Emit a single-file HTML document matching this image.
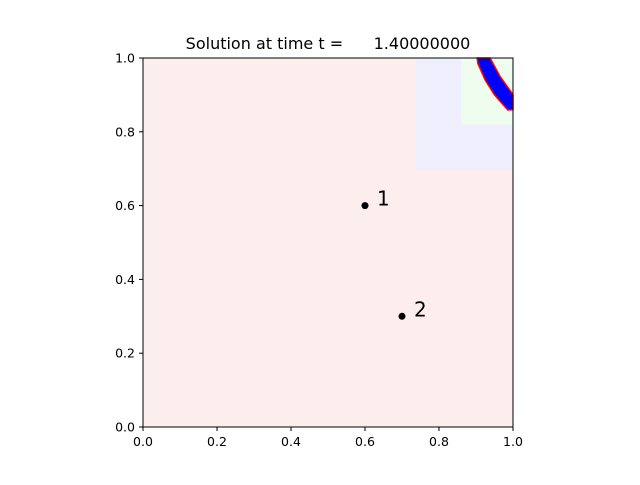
<!DOCTYPE html>
<html><head><meta charset="utf-8"><style>
body{margin:0;background:#fff;}
svg{font-family:"DejaVu Sans","Liberation Sans",sans-serif;}
</style></head><body>
<svg id="chart" width="640" height="480">
<text x="328" y="49" font-size="16" text-anchor="middle" style="white-space:pre">Solution at time t =      1.40000000</text>
<g id="plot"></g>
</svg>
<script>
const xTicks=[0,0.2,0.4,0.6,0.8,1.0];
const yTicks=[0,0.2,0.4,0.6,0.8,1.0];
const pointX=[0.6,0.7];
const pointY=[0.6,0.3];
const pointLabels=["1","2"];
const regionX0=[0,0.738,0.86];
const regionY0=[0,0.7,0.82];
const regionColors=["#fdeeee","#eeeefd","#eefdee"];
const bandX=[0.903,0.938,0.965,0.997,1.0,1.0,0.986,0.95,0.925,0.905];
const bandY=[1.0,1.0,0.95,0.905,0.9,0.86,0.859,0.9,0.94,0.985];
const X0=143,X1=513,Y0=427,Y1=58;
const sx=v=>X0+(X1-X0)*v, sy=v=>Y0-(Y0-Y1)*v;
const NS="http://www.w3.org/2000/svg";
const g=document.getElementById('plot');
function mk(t,a){const e=document.createElementNS(NS,t);for(const k in a)e.setAttribute(k,a[k]);g.appendChild(e);return e;}
regionX0.forEach((x,i)=>{const r=mk('rect',{x:sx(x),y:sy(1),width:sx(1)-sx(x),height:sy(regionY0[i])-sy(1),fill:regionColors[i]});

});
const pts=bandX.map((x,i)=>sx(x)+','+sy(bandY[i])).join(' ');
const band=mk('polygon',{points:pts,fill:'#0000ff',stroke:'#ff0000','stroke-width':1.5});


const ax=mk('rect',{x:X0,y:Y1,width:X1-X0,height:Y0-Y1,fill:'none',stroke:'#000','stroke-width':1});


xTicks.forEach(v=>{const l=mk('line',{x1:sx(v),x2:sx(v),y1:Y0,y2:Y0+4,stroke:'#000'});


const t=mk('text',{x:sx(v),y:Y0+19,'font-size':12.5,'text-anchor':'middle'});t.textContent=v.toFixed(1);

});
yTicks.forEach(v=>{const l=mk('line',{x1:X0-4,x2:X0,y1:sy(v),y2:sy(v),stroke:'#000'});


const t=mk('text',{x:X0-8,y:sy(v)+4.5,'font-size':12.5,'text-anchor':'end'});t.textContent=v.toFixed(1);

});
pointX.forEach((x,i)=>{const c=mk('circle',{cx:sx(x),cy:sy(pointY[i]),r:3.5,fill:'#000'});


const t=mk('text',{x:sx(x)+12,y:sy(pointY[i])+0,'font-size':20});t.textContent=pointLabels[i];

});
</script>
</body></html>
